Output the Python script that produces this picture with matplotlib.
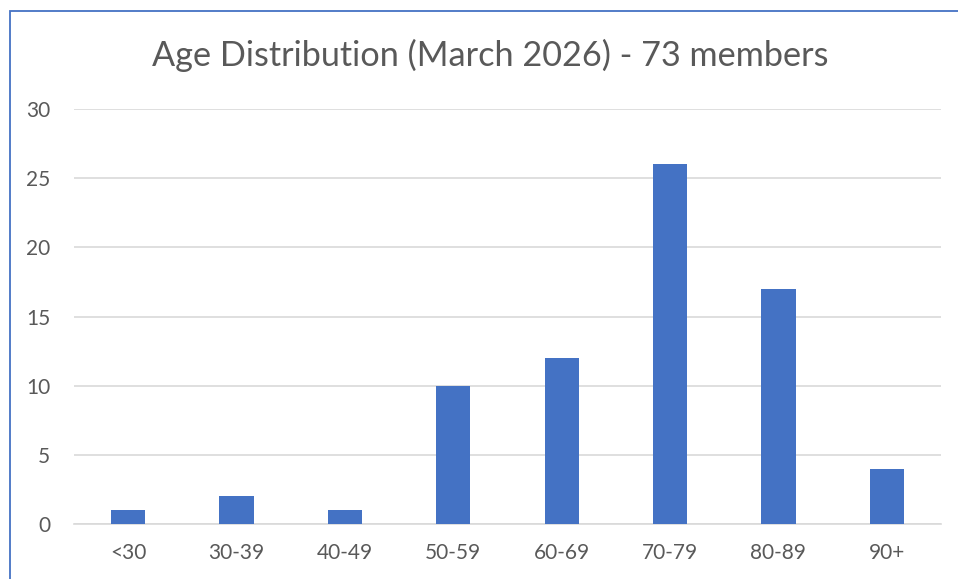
import matplotlib
matplotlib.use("Agg")
import matplotlib.pyplot as plt
from matplotlib.patches import Rectangle

categories = ["<30", "30-39", "40-49", "50-59", "60-69", "70-79", "80-89", "90+"]
counts = [1, 2, 1, 10, 12, 26, 17, 4]
yticks = [0, 5, 10, 15, 20, 25, 30]
title = "Age Distribution (March 2026) - 73 members"

plt.rcParams['font.family'] = ['Lato', 'DejaVu Sans']

fig = plt.figure(figsize=(9.58, 5.79), dpi=100)
ax = fig.add_axes([74/958, 1-524/579, (941-74)/958, (524-109)/579])

x = list(range(len(categories)))
ax.bar(x, counts, width=0.315, color="#4472C4", zorder=3)
ax.set_xlim(-0.5, len(categories)-0.5)
ax.set_ylim(0, 30)
ax.set_yticks(yticks)
ax.set_xticks(x)
ax.set_xticklabels(categories)
ax.grid(axis='y', color="#D9D9D9", linewidth=1.2, zorder=0)
for s in ['top', 'right', 'left']:
    ax.spines[s].set_visible(False)
ax.spines['bottom'].set_color("#D9D9D9")
ax.spines['bottom'].set_linewidth(1.2)
ax.tick_params(axis='both', length=0, labelsize=15, colors="#595959")
ax.tick_params(axis='y', pad=17)
ax.tick_params(axis='x', pad=14)

fig.text(490/958, 1-55/579, title, ha='center', va='center', fontsize=24.7, color="#595959")

fig.patches.append(Rectangle((9.5/958, -0.1), 1.2, 1-10.5/579+0.1, transform=fig.transFigure,
                             fill=False, edgecolor="#4472C4", linewidth=1.3))

fig.savefig("out.png", dpi=100, facecolor="white")
